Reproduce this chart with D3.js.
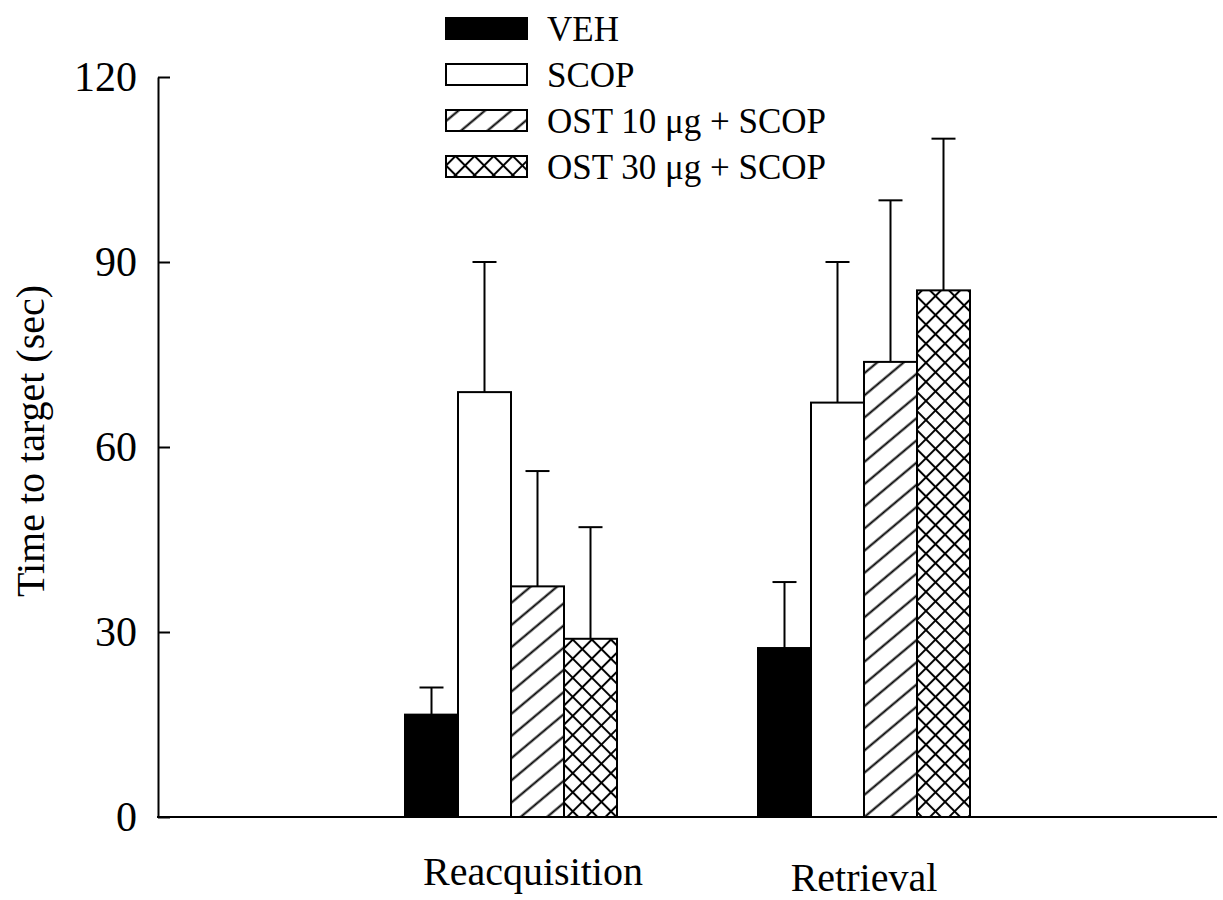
<!DOCTYPE html>
<html>
<head>
<meta charset="utf-8">
<script src="https://cdn.jsdelivr.net/npm/d3@7"></script>
<style>
  html, body { margin: 0; padding: 0; background: #fff; }
  svg { display: block; }
  text { font-family: "Liberation Serif", "Times New Roman", serif; fill: #000; }
</style>
</head>
<body>
<svg id="chart" width="1223" height="900"></svg>
<script>
// Test phases on the x axis
const categories = ["Reacquisition", "Retrieval"];
// Treatment groups (legend order)
const groups = ["VEH", "SCOP", "OST 10 \u03BCg + SCOP", "OST 30 \u03BCg + SCOP"];

// Mean time to target (sec) per phase, and SEM
const vehMean   = [16.6, 27.4];
const vehSem    = [4.4, 10.7];
const scopMean  = [68.9, 67.2];
const scopSem   = [21.1, 22.8];
const ost10Mean = [37.4, 73.8];
const ost10Sem  = [18.7, 26.2];
const ost30Mean = [28.9, 85.4];
const ost30Sem  = [18.1, 24.6];

const yTicks = [0, 30, 60, 90, 120];
const yLabel = "Time to target (sec)";

const means = [vehMean, scopMean, ost10Mean, ost30Mean];
const sems  = [vehSem, scopSem, ost10Sem, ost30Sem];

const rows = [];
categories.forEach((cat, ci) => {
  groups.forEach((g, gi) => {
    rows.push({ cat, group: g, gi, value: means[gi][ci], err: sems[gi][ci] });
  });
});

const svg = d3.select("#chart");

// Layout
const plotLeft = 158, plotRight = 1217, plotTop = 77, plotBottom = 817;
const fills = ["#000", "#fff", "url(#hatch)", "url(#cross)"];

// Fill patterns
const defs = svg.append("defs");
const hatch = defs.append("pattern")
  .attr("id", "hatch").attr("patternUnits", "userSpaceOnUse")
  .attr("width", 40).attr("height", 17)
  .attr("patternTransform", "rotate(-40)");
hatch.append("rect").attr("width", 40).attr("height", 17).attr("fill", "#fff");
hatch.append("line").attr("x1", 0).attr("x2", 40).attr("y1", 8.5).attr("y2", 8.5)
  .attr("stroke", "#000").attr("stroke-width", 2);

const cross = defs.append("pattern")
  .attr("id", "cross").attr("patternUnits", "userSpaceOnUse")
  .attr("width", 13.5).attr("height", 13.5)
  .attr("patternTransform", "rotate(45)");
cross.append("rect").attr("width", 13.5).attr("height", 13.5).attr("fill", "#fff");
cross.append("line").attr("x1", 0).attr("x2", 13.5).attr("y1", 6.75).attr("y2", 6.75)
  .attr("stroke", "#000").attr("stroke-width", 2);
cross.append("line").attr("y1", 0).attr("y2", 13.5).attr("x1", 6.75).attr("x2", 6.75)
  .attr("stroke", "#000").attr("stroke-width", 2);

// Scales
const y = d3.scaleLinear().domain([0, 120]).range([plotBottom, plotTop]);
const x = d3.scalePoint().domain(categories).range([plotLeft, plotRight]).padding(1);
const xSub = d3.scaleBand().domain(groups).range([-106, 106]).padding(0);

// Error bars (upward only)
const eb = svg.append("g").attr("stroke", "#000").attr("stroke-width", 2);
eb.selectAll("line.stem").data(rows).join("line")
  .attr("class", "stem")
  .attr("x1", d => x(d.cat) + xSub(d.group) + xSub.bandwidth() / 2)
  .attr("x2", d => x(d.cat) + xSub(d.group) + xSub.bandwidth() / 2)
  .attr("y1", d => y(d.value))
  .attr("y2", d => y(d.value + d.err));
eb.selectAll("line.cap").data(rows).join("line")
  .attr("class", "cap")
  .attr("x1", d => x(d.cat) + xSub(d.group) + xSub.bandwidth() / 2 - 12)
  .attr("x2", d => x(d.cat) + xSub(d.group) + xSub.bandwidth() / 2 + 12)
  .attr("y1", d => y(d.value + d.err))
  .attr("y2", d => y(d.value + d.err));

// Bars
svg.append("g").selectAll("rect").data(rows).join("rect")
  .attr("x", d => x(d.cat) + xSub(d.group))
  .attr("y", d => y(d.value))
  .attr("width", xSub.bandwidth())
  .attr("height", d => y(0) - y(d.value))
  .attr("fill", d => fills[d.gi])
  .attr("stroke", "#000")
  .attr("stroke-width", 2);

// Y axis with inward ticks
const yAxis = svg.append("g")
  .attr("transform", `translate(${plotLeft},0)`)
  .call(d3.axisLeft(y).tickValues(yTicks).tickSizeInner(-12).tickSizeOuter(0).tickPadding(21));
yAxis.select(".domain").attr("stroke-width", 2);
yAxis.selectAll(".tick line").attr("stroke-width", 2);
yAxis.selectAll(".tick text")
  .style("font-family", '"Liberation Serif", "Times New Roman", serif')
  .style("font-size", "42px")
  .attr("fill", "#000");

// X axis baseline
svg.append("line")
  .attr("x1", plotLeft - 1).attr("x2", plotRight)
  .attr("y1", y(0)).attr("y2", y(0))
  .attr("stroke", "#000").attr("stroke-width", 2);

// Category labels
const labelBaselines = [885, 891];
svg.append("g").selectAll("text").data(categories).join("text")
  .attr("x", (d, i) => x(d) + (i === 0 ? 22 : 0))
  .attr("y", (d, i) => labelBaselines[i])
  .attr("text-anchor", "middle")
  .style("font-size", "40px")
  .text(d => d);

// Y axis title
svg.append("text")
  .attr("transform", "translate(44,441) rotate(-90)")
  .attr("text-anchor", "middle")
  .style("font-size", "40px")
  .text(yLabel);

// Legend
const legend = svg.append("g");
const item = legend.selectAll("g").data(groups).join("g")
  .attr("transform", (d, i) => `translate(446,${18 + i * 46})`);
item.append("rect")
  .attr("width", 81).attr("height", 21)
  .attr("fill", (d, i) => fills[i])
  .attr("stroke", "#000").attr("stroke-width", 2);
item.append("text")
  .attr("x", 101).attr("y", 23)
  .style("font-size", "35px")
  .text(d => d);
</script>
</body>
</html>
